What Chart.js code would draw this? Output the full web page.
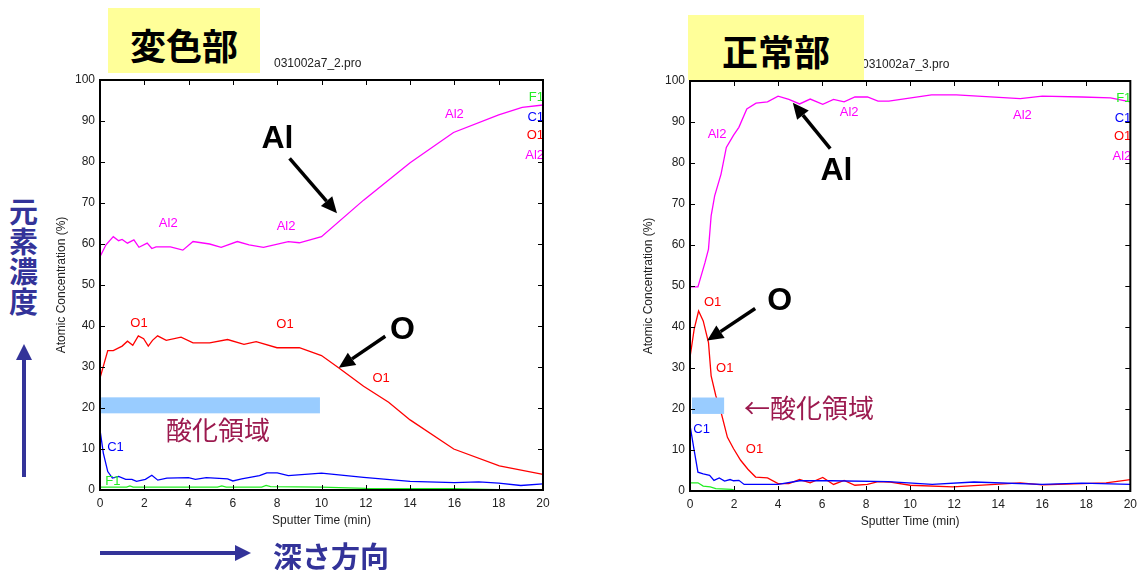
<!DOCTYPE html>
<html>
<head>
<meta charset="utf-8">
<script src="https://cdn.jsdelivr.net/npm/chart.js@4.4.1/dist/chart.umd.min.js"></script>
<style>
  body { margin: 0; background: #fff; }
  #page { position: relative; width: 1143px; height: 570px; overflow: hidden; background: #fff; }
  canvas { position: absolute; }
  .box { position: absolute; background: #ffff99; z-index: 3; }
  .big { position: absolute; z-index: 4; font-family: "Noto Sans CJK JP", sans-serif; font-weight: 700; font-size: 36px; line-height: 40px; color: #000; }
  .fname { position: absolute; z-index: 2; font-family: "Liberation Sans", Arial, sans-serif; font-size: 12px; line-height: 14px; color: #222; }
  .navy { position: absolute; z-index: 4; font-family: "Noto Sans CJK JP", sans-serif; font-weight: 700; font-size: 29px; line-height: 30px; color: #333399; }
  svg { position: absolute; left: 0; top: 0; z-index: 4; }
</style>
</head>
<body>
<div id="page">
  <div class="fname" style="left:274px; top:56px;">031002a7_2.pro</div>
  <div class="box" style="left:108px; top:8px; width:152px; height:65px;"></div>
  <div class="big" style="left:130px; top:24px;">変色部</div>

  <div class="fname" style="left:862px; top:57px;">031002a7_3.pro</div>
  <div class="box" style="left:688px; top:15px; width:176px; height:65px;"></div>
  <div class="big" style="left:722px; top:30px;">正常部</div>

  <div class="navy" style="left:9px; top:195px; width:30px;">元<br>素<br>濃<br>度</div>
  <div class="navy" style="left:273px; top:540px;">深さ方向</div>
  <svg width="1143" height="570">
    <line x1="24" y1="477" x2="24" y2="356" stroke="#333399" stroke-width="4"/>
    <polygon points="16,360 32,360 24,344" fill="#333399"/>
    <line x1="100" y1="553" x2="238" y2="553" stroke="#333399" stroke-width="4"/>
    <polygon points="235,545 235,561 251,553" fill="#333399"/>
  </svg>

  <canvas id="leftChart" width="520" height="500" style="left:40px; top:40px;"></canvas>
  <canvas id="rightChart" width="513" height="500" style="left:630px; top:41px;"></canvas>
</div>

<script>
// ---- data: left chart (変色部, 031002a7_2.pro) ----
const leftAlX = [0, 0.27, 0.6, 0.84, 1.0, 1.24, 1.53, 1.76, 2.13, 2.34, 2.53, 3.18, 3.74, 4.2, 4.95, 5.47, 6.2, 6.73, 7.38, 8.5, 9.0, 10.0, 11.9, 14.0, 15.96, 18.0, 19.06, 20];
const leftAlY = [56.9, 59.8, 61.8, 60.8, 61.1, 60.2, 61.0, 59.2, 60.2, 58.9, 59.3, 59.3, 58.5, 60.6, 60.0, 59.2, 60.6, 59.8, 59.2, 60.6, 60.3, 61.8, 70.7, 79.8, 87.2, 91.5, 93.3, 93.9];
const leftOX = [0, 0.35, 0.6, 1.0, 1.24, 1.48, 1.73, 1.97, 2.18, 2.37, 2.6, 2.99, 3.66, 4.2, 4.95, 5.76, 6.5, 7.05, 7.99, 9.0, 10.0, 10.77, 11.9, 13.03, 14.0, 15.97, 18.03, 20];
const leftOY = [27.3, 34.0, 34.0, 35.1, 36.3, 35.3, 37.6, 36.9, 35.1, 36.5, 37.6, 36.5, 37.3, 35.9, 35.9, 36.7, 35.5, 36.2, 34.7, 34.7, 32.8, 29.8, 25.3, 21.4, 17.1, 10.0, 5.9, 3.8];
const leftCX = [0, 0.15, 0.35, 0.56, 0.84, 1.16, 1.44, 1.65, 2.05, 2.34, 2.61, 3.02, 3.99, 4.31, 4.8, 5.76, 6.0, 6.4, 7.2, 7.53, 8.0, 8.5, 10.0, 11.9, 14.0, 16.0, 17.1, 18.0, 19.0, 20];
const leftCY = [14.7, 9.0, 4.5, 2.9, 3.3, 2.6, 2.6, 2.1, 2.6, 3.6, 2.4, 2.9, 3.0, 2.6, 3.0, 2.7, 2.2, 2.7, 3.5, 4.2, 4.2, 3.5, 4.1, 3.1, 2.1, 1.8, 2.0, 1.7, 1.1, 1.5];
const leftFX = [0, 1.2, 1.35, 1.5, 5.3, 5.5, 5.7, 7.3, 7.5, 7.7, 10, 12, 16, 18, 20];
const leftFY = [0.7, 0.7, 1.0, 0.7, 0.7, 1.0, 0.7, 0.7, 1.1, 0.8, 0.7, 0.4, 0.3, 0.1, 0.1];

// ---- data: right chart (正常部, 031002a7_3.pro) ----
const rightAlX = [0, 0.36, 0.68, 0.84, 0.96, 1.12, 1.41, 1.65, 1.98, 2.22, 2.58, 3.0, 3.52, 4.0, 4.49, 4.98, 5.46, 6.03, 6.52, 7.0, 7.49, 8.06, 8.54, 9.03, 10.97, 12.1, 15.0, 16.0, 17.8, 19.1, 20];
const rightAlY = [49.8, 49.8, 55.7, 59.0, 67.1, 72.0, 77.3, 83.8, 86.8, 88.7, 93.2, 94.6, 94.9, 96.3, 95.5, 94.4, 95.6, 94.3, 95.5, 94.9, 96.1, 96.1, 95.1, 95.1, 96.6, 96.6, 95.7, 96.3, 96.1, 95.9, 94.9];
const rightOX = [0, 0.19, 0.39, 0.6, 0.84, 0.96, 1.17, 1.41, 1.7, 1.98, 2.3, 2.63, 2.98, 3.52, 4.0, 4.49, 4.98, 5.46, 6.03, 6.52, 7.0, 7.49, 8.06, 8.54, 9.03, 10.0, 11.94, 15.0, 16.0, 18.9, 20];
const rightOY = [32.6, 39.5, 43.9, 41.5, 36.2, 28.1, 23.3, 19.2, 13.1, 10.3, 7.5, 5.3, 3.4, 3.2, 1.8, 1.8, 2.8, 2.0, 3.3, 1.6, 2.6, 1.4, 1.6, 2.3, 2.2, 1.4, 1.0, 2.0, 1.5, 2.0, 2.8];
const rightCX = [0, 0.19, 0.36, 0.6, 0.89, 1.09, 1.33, 1.57, 1.82, 1.98, 2.22, 2.46, 3.52, 4.0, 4.98, 6.4, 9.0, 11.0, 12.9, 16.0, 17.8, 20];
const rightCY = [16.0, 9.9, 4.6, 4.2, 3.8, 2.6, 3.2, 2.4, 2.8, 2.5, 2.6, 1.6, 1.6, 1.6, 2.5, 2.5, 2.3, 1.6, 2.2, 1.6, 1.9, 1.6];
const rightFX = [0, 0.36, 0.6, 0.92, 1.17, 1.9, 2.06, 20];
const rightFY = [2.0, 2.0, 1.2, 1.0, 0.6, 0.4, 0.1, 0.1];

const MAG = '#ff00ff', RED = '#ff0000', BLUE = '#0000ff', GREEN = '#22ee22';
const edgeLabels = ['F1', 'C1', 'O1', 'Al2'];
const edgeColors = [GREEN, BLUE, RED, MAG];
const edgeY = [95.8, 90.9, 86.4, 81.6];

// curve labels and annotations, in data units of each chart
const leftNotes = {
  labels: [
    ['Al2', MAG, 3.08, 65.1], ['Al2', MAG, 8.4, 64.3], ['Al2', MAG, 16.0, 91.5],
    ['O1', RED, 1.76, 40.7], ['O1', RED, 8.35, 40.4], ['O1', RED, 12.69, 27.3],
    ['C1', BLUE, 0.7, 10.3], ['F1', GREEN, 0.58, 2.0]
  ],
  band: [0.05, 9.93, 18.7, 22.6],
  bandText: ['酸化領域', 5.33, 14.7, 'center'],
  arrows: [
    ['Al', 8.01, 85.5, 8.56, 80.9, 10.70, 67.5],
    ['O', 13.66, 38.9, 12.88, 37.5, 10.78, 29.8]
  ]
};
const rightNotes = {
  labels: [
    ['Al2', MAG, 1.23, 86.9], ['Al2', MAG, 7.23, 92.4], ['Al2', MAG, 15.1, 91.5],
    ['O1', RED, 1.03, 45.9], ['O1', RED, 1.58, 29.9], ['O1', RED, 2.93, 10.1],
    ['C1', BLUE, 0.53, 14.9]
  ],
  band: [0.09, 1.55, 18.8, 22.8],
  bandText: ['←酸化領域', 5.41, 20.2, 'center'],
  arrows: [
    ['Al', 6.65, 78.1, 6.37, 83.5, 4.67, 94.7],
    ['O', 4.07, 46.2, 2.96, 44.5, 0.78, 36.7]
  ]
};

const pts = (xs, ys) => xs.map((v, i) => ({ x: v, y: ys[i] }));

function drawArrow(ctx, x1, y1, x2, y2) {
    const ang = Math.atan2(y2 - y1, x2 - x1);
    const head = 16, half = 7.5;
    const bx = x2 - head * Math.cos(ang), by = y2 - head * Math.sin(ang);
    ctx.strokeStyle = '#000';
    ctx.lineWidth = 3.5;
    ctx.beginPath();
    ctx.moveTo(x1, y1);
    ctx.lineTo(bx, by);
    ctx.stroke();
    ctx.fillStyle = '#000';
    ctx.beginPath();
    ctx.moveTo(x2, y2);
    ctx.lineTo(bx + half * Math.sin(ang), by - half * Math.cos(ang));
    ctx.lineTo(bx - half * Math.sin(ang), by + half * Math.cos(ang));
    ctx.closePath();
    ctx.fill();
}

const profilePlugin = {
    id: 'profile',
    afterDatasetsDraw(chart, args, notes) {
        const { ctx, chartArea: a, scales: { x, y } } = chart;
        ctx.save();
        // curve labels
        ctx.font = '13px "Liberation Sans", Arial, sans-serif';
        ctx.textAlign = 'center';
        ctx.textBaseline = 'middle';
        notes.labels.forEach(([t, c, lx, ly]) => {
            ctx.fillStyle = c;
            ctx.fillText(t, x.getPixelForValue(lx), y.getPixelForValue(ly));
        });
        ctx.textAlign = 'right';
        edgeLabels.forEach((t, i) => {
            ctx.fillStyle = edgeColors[i];
            ctx.fillText(t, a.right + 1, y.getPixelForValue(edgeY[i]));
        });
        // oxide region band
        const [b0, b1, b2, b3] = notes.band;
        ctx.fillStyle = '#99ccff';
        const px0 = x.getPixelForValue(b0), px1 = x.getPixelForValue(b1);
        const py0 = y.getPixelForValue(b3), py1 = y.getPixelForValue(b2);
        ctx.fillRect(px0, py0, px1 - px0, py1 - py0);
        const [bt, tx, ty, al] = notes.bandText;
        ctx.fillStyle = '#9c1a4f';
        ctx.font = '26px "Noto Sans CJK JP", sans-serif';
        ctx.textAlign = al;
        ctx.fillText(bt, x.getPixelForValue(tx), y.getPixelForValue(ty));
        // element arrows
        ctx.font = 'bold 32px "Liberation Sans", Arial, sans-serif';
        ctx.textAlign = 'center';
        notes.arrows.forEach(([t, tx2, ty2, x1, y1, x2, y2]) => {
            ctx.fillStyle = '#000';
            ctx.fillText(t, x.getPixelForValue(tx2), y.getPixelForValue(ty2));
            drawArrow(ctx, x.getPixelForValue(x1), y.getPixelForValue(y1),
                      x.getPixelForValue(x2), y.getPixelForValue(y2));
        });
        ctx.restore();
    },
    afterDraw(chart) {
        const { ctx, chartArea: a, scales: { x, y } } = chart;
        ctx.save();
        ctx.strokeStyle = '#000';
        ctx.lineWidth = 1;
        ctx.beginPath();
        x.ticks.forEach(t => {
            const px = Math.round(x.getPixelForValue(t.value)) + 0.5;
            ctx.moveTo(px, a.bottom); ctx.lineTo(px, a.bottom - 5);
            ctx.moveTo(px, a.top); ctx.lineTo(px, a.top + 5);
        });
        y.ticks.forEach(t => {
            const py = Math.round(y.getPixelForValue(t.value)) + 0.5;
            ctx.moveTo(a.left, py); ctx.lineTo(a.left + 5, py);
            ctx.moveTo(a.right, py); ctx.lineTo(a.right - 5, py);
        });
        ctx.stroke();
        ctx.lineWidth = 2;
        ctx.strokeRect(a.left, a.top, a.right - a.left, a.bottom - a.top);
        ctx.restore();
    }
};

function makeChart(id, series, notes, rightPad, yTitlePad) {
    const tickFont = { family: '"Liberation Sans", Arial, sans-serif', size: 12 };
    return new Chart(document.getElementById(id).getContext('2d'), {
        type: 'line',
        data: {
            datasets: series.map(([label, color, data]) => ({
                label: label,
                data: data,
                borderColor: color,
                borderWidth: 1.3,
                pointRadius: 0,
                tension: 0,
                fill: false
            }))
        },
        options: {
            responsive: false,
            animation: false,
            layout: { padding: { left: 0, right: rightPad, top: 40, bottom: 0 } },
            plugins: {
                legend: { display: false },
                tooltip: { enabled: false },
                profile: notes
            },
            scales: {
                x: {
                    type: 'linear', min: 0, max: 20,
                    ticks: { stepSize: 2, padding: 6, color: '#222', font: tickFont, maxRotation: 0 },
                    grid: { display: false, drawTicks: false },
                    border: { display: false },
                    title: { display: true, text: 'Sputter Time (min)', color: '#222', font: tickFont, padding: { top: 0, bottom: 11.8 } },
                    afterFit: s => { s.height = 50; }
                },
                y: {
                    min: 0, max: 100,
                    ticks: { stepSize: 10, padding: 5, color: '#222', font: tickFont },
                    grid: { display: false, drawTicks: false },
                    border: { display: false },
                    title: { display: true, text: 'Atomic Concentration (%)', color: '#222', font: tickFont, padding: { top: yTitlePad, bottom: 0 } },
                    afterFit: s => { s.width = 60; }
                }
            }
        },
        plugins: [profilePlugin]
    });
}

makeChart('leftChart', [
    ['F1', GREEN, pts(leftFX, leftFY)],
    ['C1', BLUE, pts(leftCX, leftCY)],
    ['O1', RED, pts(leftOX, leftOY)],
    ['Al2', MAG, pts(leftAlX, leftAlY)]
], leftNotes, 17, 14.8);

makeChart('rightChart', [
    ['F1', GREEN, pts(rightFX, rightFY)],
    ['C1', BLUE, pts(rightCX, rightCY)],
    ['O1', RED, pts(rightOX, rightOY)],
    ['Al2', MAG, pts(rightAlX, rightAlY)]
], rightNotes, 12, 11.8);
</script>
</body>
</html>
